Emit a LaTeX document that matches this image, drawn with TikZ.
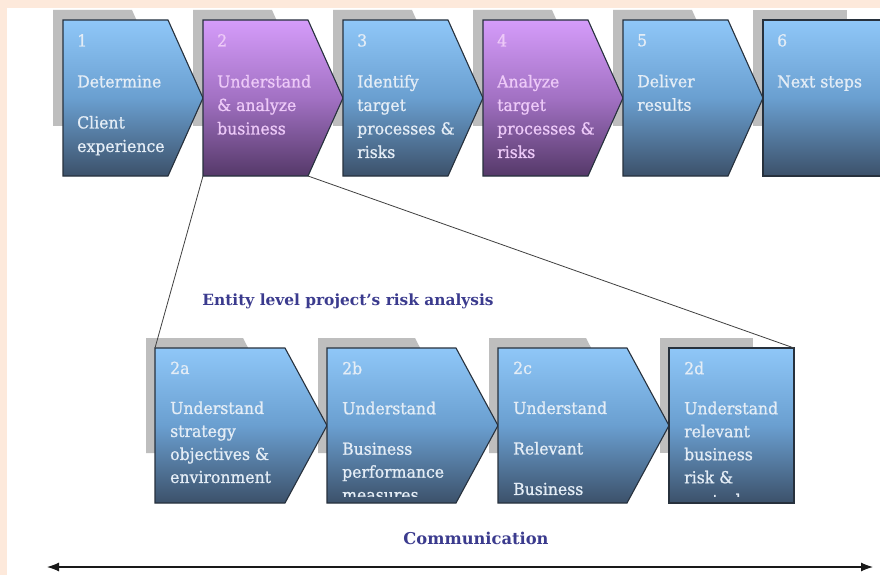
\documentclass[tikz,border=0pt]{standalone}
\usepackage{fontspec}
\setmainfont{DejaVu Serif}
\newfontfamily\stepfont[FakeStretch=0.95, FakeBold=0.9]{DejaVu Serif}
\usetikzlibrary{arrows.meta}

\definecolor{peach}{HTML}{FDE9DB}
\definecolor{shadowgray}{HTML}{BEBEBE}
\definecolor{stepline}{HTML}{27313D}
\definecolor{bluetop}{HTML}{8FC7F8}
\definecolor{bluemid}{HTML}{6A9FD0}
\definecolor{bluebot}{HTML}{3C516A}
\definecolor{purpletop}{HTML}{D59CFA}
\definecolor{purplemid}{HTML}{A271C3}
\definecolor{purplebot}{HTML}{553969}
\definecolor{bluetext}{HTML}{E4EDF6}
\definecolor{purpletext}{HTML}{EDC9F8}
\definecolor{labelblue}{HTML}{3B3B8E}

\tikzset{
  shadowstep/.style={fill=shadowgray},
  bluestep/.style={draw=stepline, line width=1.1, top color=bluetop, bottom color=bluebot, middle color=bluemid},
  purplestep/.style={draw=stepline, line width=1.1, top color=purpletop, bottom color=purplebot, middle color=purplemid},
  steptext/.style={anchor=north west, inner sep=0pt, align=left, text=bluetext, font=\stepfont\fontsize{16.5}{23.5}\selectfont},
  substeptext/.style={steptext, font=\stepfont\fontsize{16.5}{23}\selectfont},
  zoomline/.style={draw=black!75, line width=0.8},
  phaselabel/.style={text=labelblue, inner sep=0pt, font=\bfseries\fontsize{15.4}{18}\selectfont},
  commarrow/.style={{Latex[length=12pt,width=9pt]}-{Latex[length=12pt,width=9pt]}, line width=1.1, draw=black!90}
}

\begin{document}
\begin{tikzpicture}[x=1pt, y=-1pt]
    \useasboundingbox (0,0) rectangle (880,575);

    % Fundo
    \fill[peach] (0,0) rectangle (880,575);
    \fill[white] (7,8) rectangle (880,575);

    % Sombras
    \fill[shadowstep] (53,10) -- (132,10) -- (158,68) -- (132,126) -- (53,126) -- cycle;
    \fill[shadowstep] (193,10) -- (272,10) -- (298,68) -- (272,126) -- (193,126) -- cycle;
    \fill[shadowstep] (333,10) -- (412,10) -- (438,68) -- (412,126) -- (333,126) -- cycle;
    \fill[shadowstep] (473,10) -- (552,10) -- (578,68) -- (552,126) -- (473,126) -- cycle;
    \fill[shadowstep] (613,10) -- (692,10) -- (718,68) -- (692,126) -- (613,126) -- cycle;
    \fill[shadowstep] (753,10) rectangle (847,126);

    \fill[shadowstep] (146,338) -- (243,338) -- (273,396) -- (243,453) -- (146,453) -- cycle;
    \fill[shadowstep] (318,338) -- (415,338) -- (445,396) -- (415,453) -- (318,453) -- cycle;
    \fill[shadowstep] (489,338) -- (586,338) -- (616,396) -- (586,453) -- (489,453) -- cycle;
    \fill[shadowstep] (660,338) rectangle (753,453);

    % Etapas
    \draw[bluestep] (63,20) -- (168,20) -- (203,98) -- (168,176) -- (63,176) -- cycle;
    \draw[purplestep] (203,20) -- (308,20) -- (343,98) -- (308,176) coordinate (s2se) -- (203,176) coordinate (s2sw) -- cycle;
    \draw[bluestep] (343,20) -- (448,20) -- (483,98) -- (448,176) -- (343,176) -- cycle;
    \draw[purplestep] (483,20) -- (588,20) -- (623,98) -- (588,176) -- (483,176) -- cycle;
    \draw[bluestep] (623,20) -- (728,20) -- (763,98) -- (728,176) -- (623,176) -- cycle;
    \draw[bluestep] (763,20) rectangle (886,176);

    \draw[bluestep] (155,348) coordinate (s2anw) -- (285,348) -- (327,425.5) -- (285,503) -- (155,503) -- cycle;
    \draw[bluestep] (327,348) -- (456,348) -- (498,425.5) -- (456,503) -- (327,503) -- cycle;
    \draw[bluestep] (498,348) -- (627,348) -- (669,425.5) -- (627,503) -- (498,503) -- cycle;
    \draw[bluestep] (669,503) rectangle (794,348) coordinate (s2dne);

    % Textos
    \node[steptext] (t1) at (77,34) {1\\[17.5pt]Determine\\[17.5pt]Client\\experience};
    \node[steptext, text=purpletext] (t2) at (217,34) {2\\[17.5pt]Understand\\\& analyze\\business};
    \node[steptext] (t3) at (357,34) {3\\[17.5pt]Identify\\target\\processes \&\\risks};
    \node[steptext, text=purpletext] (t4) at (497,34) {4\\[17.5pt]Analyze\\target\\processes \&\\risks};
    \node[steptext] (t5) at (637,34) {5\\[17.5pt]Deliver\\results};
    \node[steptext] (t6) at (777,34) {6\\[17.5pt]Next steps};

    \begin{scope}
        \clip (150,348) rectangle (800,496.5);
        \node[substeptext] (t2a) at (170,361.5) {2a\\[17pt]Understand\\strategy\\objectives \&\\environment};
        \node[substeptext] (t2b) at (342,361.5) {2b\\[17pt]Understand\\[17.5pt]Business\\performance\\measures};
        \node[substeptext] (t2c) at (513,361.5) {2c\\[17pt]Understand\\[17.5pt]Relevant\\[17.5pt]Business};
        \node[substeptext] (t2d) at (684,361.5) {2d\\[17pt]Understand\\relevant\\business\\risk \&\\controls};
    \end{scope}

    % Ligações
    \draw[zoomline] (s2sw) -- (s2anw);
    \draw[zoomline] (s2se) -- (s2dne);

    \node[phaselabel] (entity) at (348,301) {Entity level project's risk analysis};
    \node[phaselabel, font=\bfseries\fontsize{16.3}{18}\selectfont] (comm) at (476,538) {Communication};

    \coordinate (commL) at (47,567);
    \coordinate (commR) at (873,567);
    \draw[commarrow] (commL) -- (commR);
\end{tikzpicture}
\end{document}
